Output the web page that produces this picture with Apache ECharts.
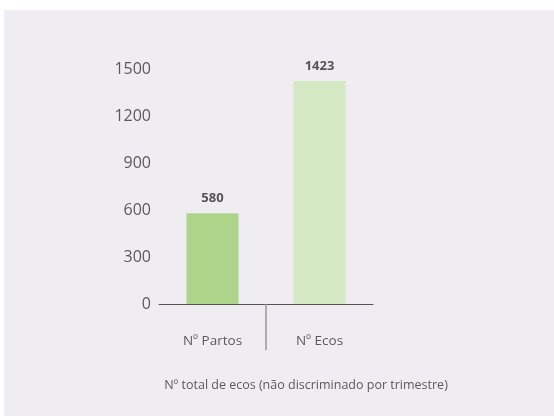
<!DOCTYPE html>
<html>
<head>
<meta charset="utf-8">
<script src="https://cdn.jsdelivr.net/npm/echarts@6/dist/echarts.min.js"></script>
<style>
    html, body { margin: 0; padding: 0; background: #ffffff; }
    #chart { position: absolute; left: 4px; top: 10px; width: 550px; height: 406px; background: #efedf2; }
</style>
</head>
<body>
<div id="chart"></div>
<script>
// dados do gráfico
const categorias = ['Nº Partos', 'Nº Ecos'];
const valores = [580, 1423];
const coresBarras = ['#acd58a', '#d4e8c4'];
const tituloEixo = 'Nº total de ecos (não discriminado por trimestre)';

document.addEventListener('DOMContentLoaded', function() {
    const chartDom = document.getElementById('chart');
    const myChart = echarts.init(chartDom);
    const option = {
        animation: false,
        textStyle: { fontFamily: 'Open Sans' },
        title: {
            text: tituloEixo,
            left: 297,
            top: 364,
            textAlign: 'center',
            textStyle: {
                fontFamily: 'Open Sans',
                fontSize: 12.5,
                fontWeight: 'normal',
                color: '#5a5a5a'
            }
        },
        grid: {
            left: 155,
            right: 181,
            top: 59,
            bottom: 112
        },
        xAxis: [
            {
                type: 'category',
                data: categorias,
                axisLine: { lineStyle: { color: '#555555', width: 1 } },
                axisTick: { show: false },
                axisLabel: {
                    margin: 30,
                    fontSize: 13.5,
                    color: '#5a5a5a',
                    fontFamily: 'Open Sans'
                }
            },
            {
                // eixo auxiliar só para o separador entre categorias
                type: 'value',
                position: 'bottom',
                min: 0,
                max: 2,
                axisLine: { show: false },
                axisLabel: { show: false },
                splitLine: { show: false },
                axisTick: {
                    show: true,
                    customValues: [1],
                    length: 46,
                    lineStyle: { color: '#999999', width: 1.5 }
                }
            }
        ],
        yAxis: {
            type: 'value',
            min: 0,
            max: 1500,
            interval: 300,
            axisLine: { show: false },
            axisTick: { show: false },
            splitLine: { show: false },
            axisLabel: {
                margin: 8,
                fontSize: 16,
                color: '#5a5a5a',
                fontFamily: 'Open Sans',
                formatter: function(v) { return String(v); }
            }
        },
        series: [
            {
                type: 'bar',
                xAxisIndex: 0,
                barWidth: 52,
                data: valores.map(function(v, i) {
                    return { value: v, itemStyle: { color: coresBarras[i] } };
                }),
                label: {
                    show: true,
                    position: 'top',
                    distance: 8,
                    fontSize: 13,
                    fontWeight: 'bold',
                    color: '#555555',
                    fontFamily: 'Open Sans'
                }
            }
        ]
    };
    myChart.setOption(option);
});
</script>
</body>
</html>
